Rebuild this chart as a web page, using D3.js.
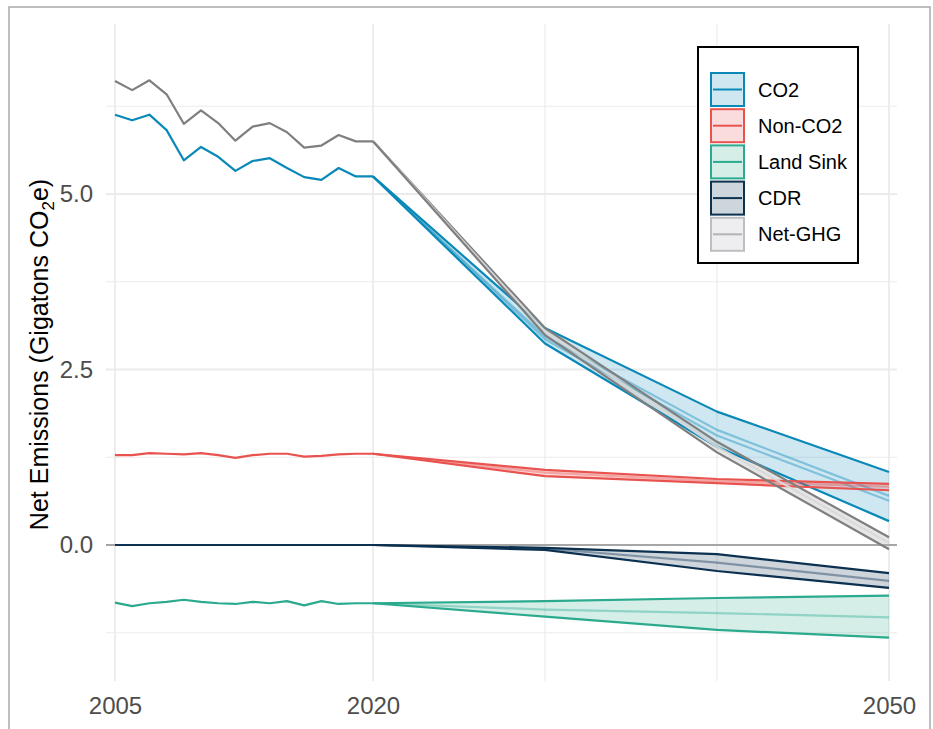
<!DOCTYPE html>
<html>
<head>
<meta charset="utf-8">
<script src="https://cdn.jsdelivr.net/npm/d3@7/dist/d3.min.js"></script>
<style>
  html, body { margin: 0; padding: 0; background: #ffffff; }
  svg { display: block; font-family: "Liberation Sans", Arial, Helvetica, sans-serif; }
</style>
</head>
<body>
<svg id="chart" width="933" height="729"></svg>
<script>
// ---------------- DATA ----------------
const seriesNames = ["CO2", "Non-CO2", "Land Sink", "CDR", "Net-GHG"];
const histYears = [2005, 2006, 2007, 2008, 2009, 2010, 2011, 2012, 2013, 2014, 2015, 2016, 2017, 2018, 2019, 2020];
const co2Hist    = [6.13, 6.05, 6.13, 5.91, 5.48, 5.67, 5.53, 5.33, 5.47, 5.51, 5.37, 5.24, 5.20, 5.37, 5.25, 5.25];
const nonco2Hist = [1.28, 1.28, 1.31, 1.30, 1.29, 1.31, 1.28, 1.24, 1.28, 1.30, 1.30, 1.26, 1.27, 1.29, 1.30, 1.30];
const landHist   = [-0.82, -0.87, -0.83, -0.81, -0.78, -0.81, -0.83, -0.84, -0.81, -0.83, -0.80, -0.86, -0.80, -0.84, -0.83, -0.83];
const cdrHist    = [0, 0, 0, 0, 0, 0, 0, 0, 0, 0, 0, 0, 0, 0, 0, 0];
const netHist    = [6.61, 6.48, 6.62, 6.42, 6.00, 6.19, 6.01, 5.76, 5.96, 6.01, 5.88, 5.66, 5.69, 5.84, 5.75, 5.75];

const projYears = [2020, 2030, 2040, 2050];
// scenario paths (first = upper edge, last = lower edge)
const co2Proj = [
  [5.25, 3.09, 1.90, 1.04],
  [5.25, 2.97, 1.64, 0.70],
  [5.25, 2.93, 1.56, 0.63],
  [5.25, 2.87, 1.40, 0.34]
];
const nonco2Proj = [
  [1.30, 1.07, 0.94, 0.87],
  [1.30, 1.03, 0.91, 0.83],
  [1.30, 0.98, 0.88, 0.78]
];
const landProj = [
  [-0.83, -0.80, -0.755, -0.72],
  [-0.83, -0.92, -0.97, -1.03],
  [-0.83, -1.02, -1.21, -1.32]
];
const cdrProj = [
  [0, -0.04, -0.13, -0.40],
  [0, -0.05, -0.25, -0.51],
  [0, -0.07, -0.37, -0.61]
];
const netProj = [
  [5.75, 3.09, 1.47, 0.11],
  [5.75, 3.04, 1.40, 0.03],
  [5.75, 2.99, 1.32, -0.06]
];

const xBreaks = [2005, 2020, 2050];
const xMinor = [2030, 2040];
const yBreaks = [0, 2.5, 5.0];
const yMinor = [-1.25, 1.25, 3.75, 6.25];

const lineColors = ["#0A89B8", "#E8534F", "#2BAA8E", "#0B3050", "#7F7F7F"];
const keyBorder  = ["#0A89B8", "#E8534F", "#2BAA8E", "#0B3050", "#BEBEC2"];
const keyLine    = ["#0A89B8", "#E8534F", "#2BAA8E", "#0B3050", "#B3B3B3"];
const keyFill    = ["#CFE7F1", "#FADCDC", "#D5EEE8", "#CED6DD", "#EEEEF0"];
const ribbonFill = ["#0A89B8", "#E8534F", "#2BAA8E", "#0B3050", "#B8B8B8"];

// ---------------- LAYOUT ----------------
const svg = d3.select("#chart");
const panel = { left: 106, right: 897, top: 24, bottom: 681 };

const x = d3.scaleLinear().domain([2005, 2050]).range([115, 889]);
const y = d3.scaleLinear().domain([0, 5]).range([545, 194]);

// outer border
svg.append("rect")
  .attr("x", 9).attr("y", 7).attr("width", 921).attr("height", 730)
  .attr("fill", "none").attr("stroke", "#A3A3A3").attr("stroke-width", 1.4);

// grid
const grid = svg.append("g");
yMinor.forEach(v => grid.append("line")
  .attr("x1", panel.left).attr("x2", panel.right).attr("y1", y(v)).attr("y2", y(v))
  .attr("stroke", "#EBEBEB").attr("stroke-width", 1.1));
xMinor.forEach(v => grid.append("line")
  .attr("x1", x(v)).attr("x2", x(v)).attr("y1", panel.top).attr("y2", panel.bottom)
  .attr("stroke", "#EBEBEB").attr("stroke-width", 1.1));
yBreaks.forEach(v => grid.append("line")
  .attr("x1", panel.left).attr("x2", panel.right).attr("y1", y(v)).attr("y2", y(v))
  .attr("stroke", "#EBEBEB").attr("stroke-width", 1.8));
xBreaks.forEach(v => grid.append("line")
  .attr("x1", x(v)).attr("x2", x(v)).attr("y1", panel.top).attr("y2", panel.bottom)
  .attr("stroke", "#EBEBEB").attr("stroke-width", 1.8));

// zero reference line
svg.append("line")
  .attr("x1", panel.left).attr("x2", panel.right).attr("y1", y(0)).attr("y2", y(0))
  .attr("stroke", "#A6A6A6").attr("stroke-width", 2);

// axes text
const xAxis = d3.axisBottom(x).tickValues(xBreaks).tickFormat(d3.format("d")).tickSize(0).tickPadding(0);
const gx = svg.append("g").attr("transform", `translate(0, ${panel.bottom + 16})`).call(xAxis);
gx.select(".domain").remove();
gx.selectAll("text").attr("font-size", 24).attr("fill", "#4D4D4D")
  .attr("font-family", "Liberation Sans, Arial, sans-serif").attr("dy", "0.71em");

const yAxis = d3.axisLeft(y).tickValues(yBreaks).tickFormat(d3.format(".1f")).tickSize(0).tickPadding(0);
const gy = svg.append("g").attr("transform", `translate(93, 0)`).call(yAxis);
gy.select(".domain").remove();
gy.selectAll("text").attr("font-size", 24).attr("fill", "#4D4D4D")
  .attr("font-family", "Liberation Sans, Arial, sans-serif");

// y title
const yt = svg.append("text")
  .attr("transform", `translate(48, ${(panel.top + panel.bottom) / 2 + 2}) rotate(-90)`)
  .attr("text-anchor", "middle").attr("font-size", 25).attr("fill", "#000");
yt.append("tspan").text("Net Emissions (Gigatons CO");
yt.append("tspan").attr("font-size", 17).attr("dy", 6).text("2");
yt.append("tspan").attr("dy", -6).text("e)");

// ---------------- MARKS ----------------
const hist = [co2Hist, nonco2Hist, landHist, cdrHist, netHist];
const proj = [co2Proj, nonco2Proj, landProj, cdrProj, netProj];

const line = d3.line().x(d => x(d[0])).y(d => y(d[1]));
const area = d3.area().x(d => x(d.year)).y0(d => y(d.lo)).y1(d => y(d.hi));

// ribbons
const ribG = svg.append("g");
proj.forEach((scen, i) => {
  const band = projYears.map((yr, j) => ({
    year: yr,
    lo: d3.min(scen, s => s[j]),
    hi: d3.max(scen, s => s[j])
  }));
  ribG.append("path").datum(band).attr("d", area)
    .attr("fill", ribbonFill[i]).attr("fill-opacity", i === 4 ? 0.35 : 0.2);
});

// lines
const lineG = svg.append("g").attr("fill", "none").attr("stroke-linejoin", "round");
hist.forEach((vals, i) => {
  const pts = histYears.map((yr, j) => [yr, vals[j]]);
  lineG.append("path").datum(pts).attr("d", line)
    .attr("stroke", lineColors[i]).attr("stroke-width", 2.2);
  proj[i].forEach((s, k) => {
    const edge = (k === 0 || k === proj[i].length - 1);
    const p = projYears.map((yr, j) => [yr, s[j]]);
    lineG.append("path").datum(p).attr("d", line)
      .attr("stroke", i === 4 && !edge ? "#D8D8D8" : lineColors[i])
      .attr("stroke-opacity", edge ? 1 : (i === 4 ? 0.9 : 0.4))
      .attr("stroke-width", 2.2);
  });
});

// ---------------- LEGEND ----------------
const lg = svg.append("g");
lg.append("rect").attr("x", 698).attr("y", 47).attr("width", 160).attr("height", 216)
  .attr("fill", "#fff").attr("stroke", "#000").attr("stroke-width", 2);
seriesNames.forEach((name, i) => {
  const ky = 73 + i * 36.2;
  lg.append("rect").attr("x", 711).attr("y", ky).attr("width", 33).attr("height", 33)
    .attr("fill", keyFill[i]).attr("stroke", keyBorder[i]).attr("stroke-width", 2);
  lg.append("line").attr("x1", 713).attr("x2", 742).attr("y1", ky + 16.5).attr("y2", ky + 16.5)
    .attr("stroke", keyLine[i]).attr("stroke-width", 2);
  lg.append("text").attr("x", 758).attr("y", ky + 16.5).attr("dy", "0.35em")
    .attr("font-size", 20).attr("fill", "#000").text(name);
});
</script>
</body>
</html>
